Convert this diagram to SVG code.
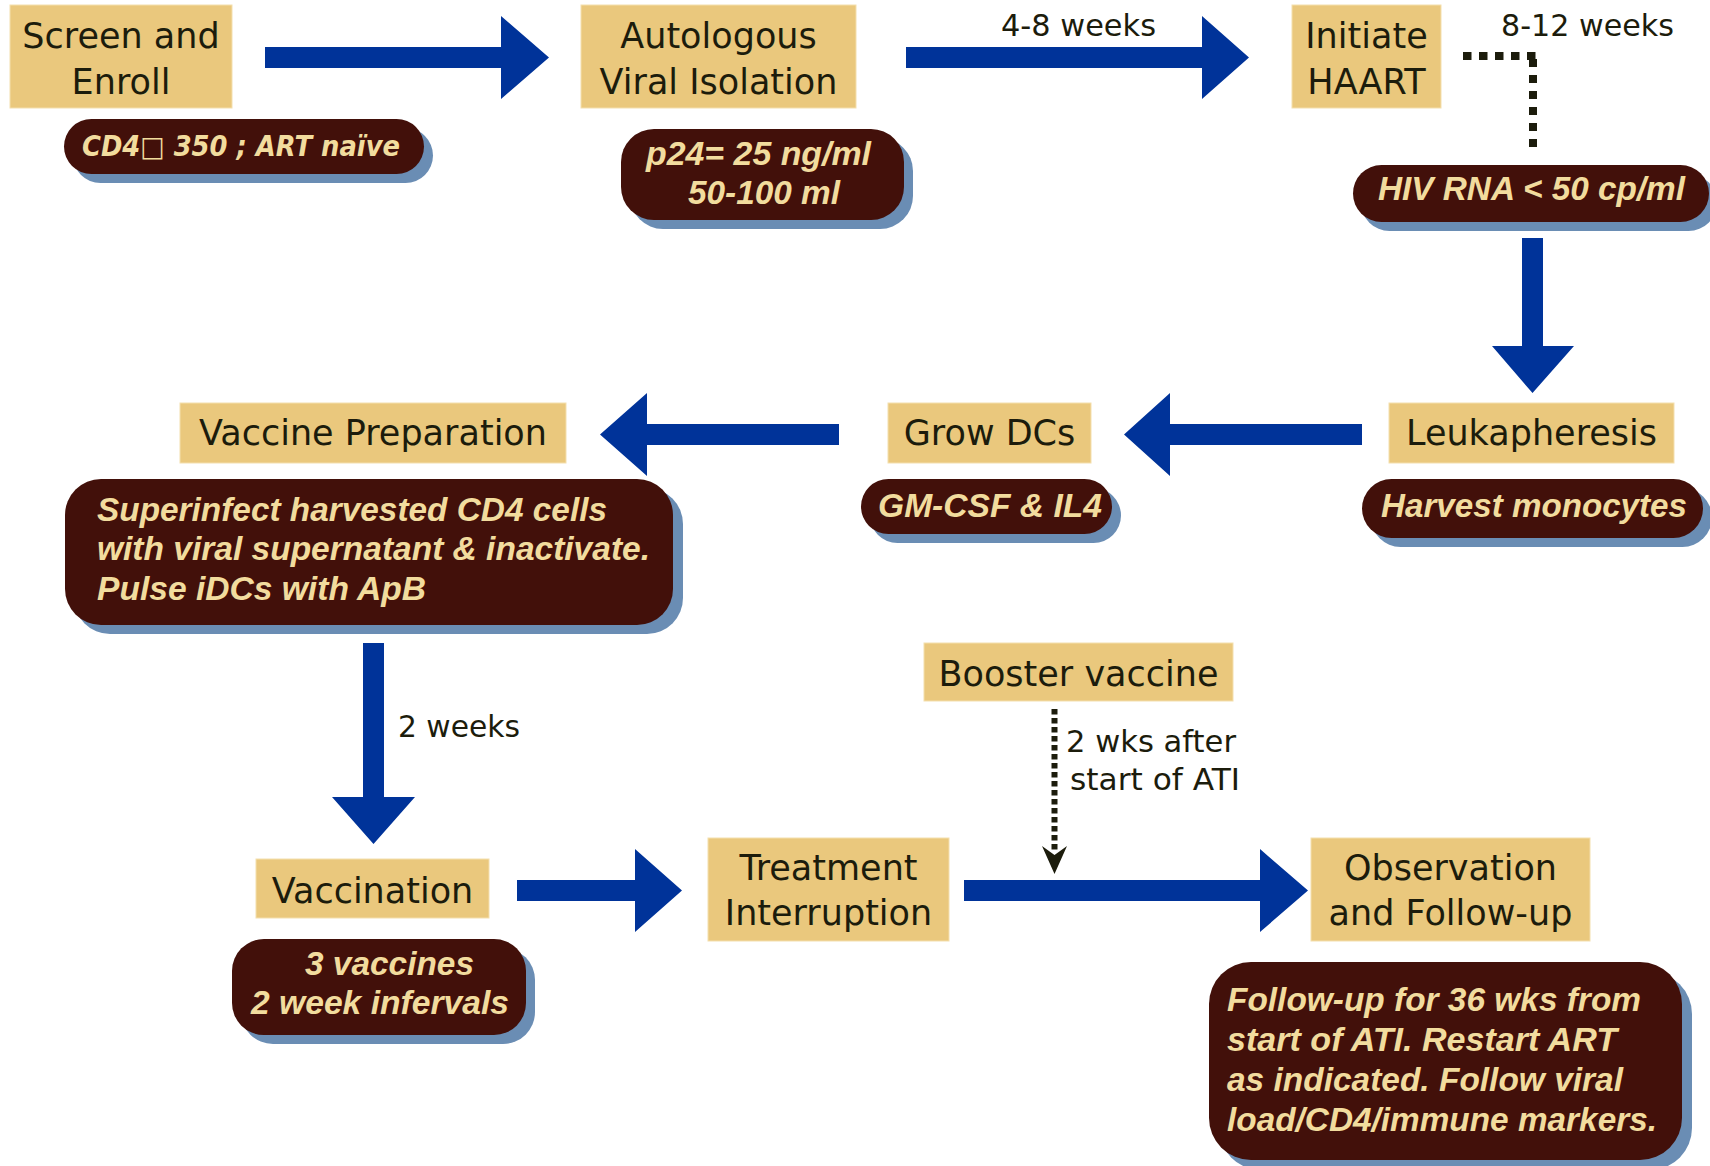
<svg xmlns="http://www.w3.org/2000/svg" width="1710" height="1166" viewBox="0 0 1710 1166">
<style>
.box{fill:#EAC87D;stroke:#F4DFAE;stroke-width:1}
.bt{font-family:"DejaVu Sans",sans-serif;font-size:35px;fill:#1C1C0C;text-anchor:middle}
.lbl{font-family:"DejaVu Sans",sans-serif;font-size:30px;fill:#1C1C0C}
.pill{fill:#42100A}
.shadow{fill:#6A8DB4}
.pt{font-family:"Liberation Sans",Arial,sans-serif;font-size:33px;font-weight:bold;font-style:italic;fill:#F2DC9E}
.pt1{font-family:"DejaVu Sans",sans-serif;font-size:28px;font-weight:bold;font-style:italic;fill:#F2DC9E}
.arrow{fill:#003399}
.dot{fill:none;stroke:#1C1C0C}
</style>
<rect width="1710" height="1166" fill="#FFFFFF"/>

<g id="connectors">
  <path class="arrow" d="M265,47 H501 V16 L549,57.5 L501,99 V68 H265 Z"/>
  <path class="arrow" d="M906,47 H1202 V16 L1249,57.5 L1202,99 V68 H906 Z"/>
  <path class="arrow" d="M1522,238 V346 H1492 L1532.5,393 L1574,346 H1543 V238 Z"/>
  <path class="arrow" d="M1362,424 H1170 V393 L1124,434.5 L1170,476 V445 H1362 Z"/>
  <path class="arrow" d="M839,424 H647 V393 L600,434.5 L647,476 V445 H839 Z"/>
  <path class="arrow" d="M363,643 V797 H332 L373.5,844 L415,797 H384 V643 Z"/>
  <path class="arrow" d="M517,880 H635 V849 L682,890.5 L635,932 V901 H517 Z"/>
  <path class="arrow" d="M964,880 H1260 V849 L1308,890.5 L1260,932 V901 H964 Z"/>
  <line class="dot" x1="1463" y1="56" x2="1537" y2="56" stroke-width="8" stroke-dasharray="8.5 7.5"/>
  <line class="dot" x1="1533" y1="59" x2="1533" y2="147" stroke-width="8" stroke-dasharray="8 8"/>
  <line class="dot" x1="1054.5" y1="709" x2="1054.5" y2="850" stroke-width="6" stroke-dasharray="5.5 3.5"/>
  <path d="M1042,846 L1054.5,855 L1067,846 L1054.5,874 Z" fill="#1C1C0C"/>
  <g id="connector-labels">
    <text class="lbl" x="1001" y="36" textLength="155" lengthAdjust="spacingAndGlyphs">4-8 weeks</text>
    <text class="lbl" x="1501" y="36" textLength="173" lengthAdjust="spacingAndGlyphs">8-12 weeks</text>
    <text class="lbl" x="398" y="737" textLength="122" lengthAdjust="spacingAndGlyphs">2 weeks</text>
    <text class="lbl" x="1066" y="752" textLength="170" lengthAdjust="spacingAndGlyphs">2 wks after</text>
    <text class="lbl" x="1070" y="790" textLength="170" lengthAdjust="spacingAndGlyphs">start of ATI</text>
  </g>
</g>

<g id="screen-enroll">
  <rect class="box" x="10" y="5" width="222" height="103"/>
  <text class="bt" x="121" y="48">Screen and</text>
  <text class="bt" x="121" y="94">Enroll</text>
</g>
<g id="cd4-criteria">
  <rect class="shadow" x="73" y="128" width="360" height="55" rx="27.5"/>
  <rect class="pill" x="64" y="119" width="360" height="55" rx="27.5"/>
  <text class="pt1" x="82" y="156" textLength="318" lengthAdjust="spacingAndGlyphs">CD4□ 350 ; ART naïve</text>
</g>

<g id="viral-isolation">
  <rect class="box" x="581" y="5" width="275" height="103"/>
  <text class="bt" x="718.5" y="48">Autologous</text>
  <text class="bt" x="718.5" y="94">Viral Isolation</text>
</g>
<g id="p24-criteria">
  <rect class="shadow" x="630" y="138" width="283" height="91" rx="33"/>
  <rect class="pill" x="621" y="129" width="283" height="91" rx="33"/>
  <text class="pt" x="646" y="165" textLength="225" lengthAdjust="spacingAndGlyphs">p24= 25 ng/ml</text>
  <text class="pt" x="688" y="204" textLength="152" lengthAdjust="spacingAndGlyphs">50-100 ml</text>
</g>

<g id="initiate-haart">
  <rect class="box" x="1292" y="5" width="149" height="103"/>
  <text class="bt" x="1366.5" y="48">Initiate</text>
  <text class="bt" x="1366.5" y="94">HAART</text>
</g>
<g id="hiv-rna">
  <rect class="shadow" x="1361" y="174" width="356" height="57" rx="28.5"/>
  <rect class="pill" x="1353" y="165" width="356" height="57" rx="28.5"/>
  <text class="pt" x="1378" y="200" textLength="307" lengthAdjust="spacingAndGlyphs">HIV RNA &lt; 50 cp/ml</text>
</g>

<g id="leukapheresis">
  <rect class="box" x="1389" y="403" width="285" height="60"/>
  <text class="bt" x="1531.5" y="445">Leukapheresis</text>
</g>
<g id="harvest-monocytes">
  <rect class="shadow" x="1371" y="488" width="341" height="59" rx="29.5"/>
  <rect class="pill" x="1362" y="479" width="341" height="59" rx="29.5"/>
  <text class="pt" x="1381" y="517" textLength="306" lengthAdjust="spacingAndGlyphs">Harvest monocytes</text>
</g>

<g id="grow-dcs">
  <rect class="box" x="888" y="403" width="203" height="60"/>
  <text class="bt" x="989.5" y="445">Grow DCs</text>
</g>
<g id="gm-csf">
  <rect class="shadow" x="870" y="488" width="251" height="55" rx="27.5"/>
  <rect class="pill" x="861" y="479" width="251" height="55" rx="27.5"/>
  <text class="pt" x="878" y="517" textLength="224" lengthAdjust="spacingAndGlyphs">GM-CSF &amp; IL4</text>
</g>

<g id="vaccine-preparation">
  <rect class="box" x="180" y="403" width="386" height="60"/>
  <text class="bt" x="373" y="445">Vaccine Preparation</text>
</g>
<g id="preparation-details">
  <rect class="shadow" x="74" y="488" width="609" height="146" rx="36"/>
  <rect class="pill" x="65" y="479" width="608" height="146" rx="36"/>
  <text class="pt" x="97" y="521" textLength="510" lengthAdjust="spacingAndGlyphs">Superinfect harvested CD4 cells</text>
  <text class="pt" x="97" y="560" textLength="553" lengthAdjust="spacingAndGlyphs">with viral supernatant &amp; inactivate.</text>
  <text class="pt" x="97" y="600" textLength="329" lengthAdjust="spacingAndGlyphs">Pulse iDCs with ApB</text>
</g>

<g id="booster-vaccine">
  <rect class="box" x="924" y="643" width="309" height="58"/>
  <text class="bt" x="1078.5" y="686">Booster vaccine</text>
</g>

<g id="vaccination">
  <rect class="box" x="256" y="859" width="233" height="59"/>
  <text class="bt" x="372.5" y="903">Vaccination</text>
</g>
<g id="vaccination-details">
  <rect class="shadow" x="241" y="948" width="294" height="96" rx="32"/>
  <rect class="pill" x="232" y="939" width="294" height="96" rx="32"/>
  <text class="pt" x="305" y="975" textLength="169" lengthAdjust="spacingAndGlyphs">3 vaccines</text>
  <text class="pt" x="251" y="1014" textLength="258" lengthAdjust="spacingAndGlyphs">2 week infervals</text>
</g>

<g id="treatment-interruption">
  <rect class="box" x="708" y="838" width="241" height="103"/>
  <text class="bt" x="828.5" y="880">Treatment</text>
  <text class="bt" x="828.5" y="925">Interruption</text>
</g>

<g id="observation-follow-up">
  <rect class="box" x="1311" y="838" width="279" height="103"/>
  <text class="bt" x="1450.5" y="880">Observation</text>
  <text class="bt" x="1450.5" y="925">and Follow-up</text>
</g>
<g id="follow-up-details">
  <rect class="shadow" x="1219" y="972" width="473" height="198" rx="42"/>
  <rect class="pill" x="1209" y="962" width="473" height="198" rx="42"/>
  <text class="pt" x="1227" y="1011" textLength="414" lengthAdjust="spacingAndGlyphs">Follow-up for 36 wks from</text>
  <text class="pt" x="1227" y="1051" textLength="390" lengthAdjust="spacingAndGlyphs">start of ATI. Restart ART</text>
  <text class="pt" x="1227" y="1091" textLength="396" lengthAdjust="spacingAndGlyphs">as indicated. Follow viral</text>
  <text class="pt" x="1227" y="1131" textLength="430" lengthAdjust="spacingAndGlyphs">load/CD4/immune markers.</text>
</g>
</svg>
